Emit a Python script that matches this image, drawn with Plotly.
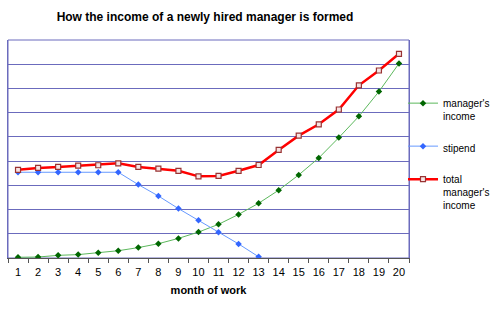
import plotly.graph_objects as go

months = [str(i) for i in range(1, 21)]
managers_income = [0.03, 0.04, 0.11, 0.14, 0.22, 0.30, 0.43, 0.59, 0.81, 1.07,
                   1.39, 1.80, 2.26, 2.80, 3.43, 4.13, 4.97, 5.85, 6.87, 8.03]
stipend = [3.54, 3.54, 3.54, 3.54, 3.54, 3.54, 3.03, 2.56, 2.04, 1.56,
           1.06, 0.58, 0.05]
total_income = [3.64, 3.72, 3.76, 3.81, 3.83, 3.91, 3.76, 3.69, 3.60, 3.37,
                3.39, 3.60, 3.84, 4.46, 5.05, 5.52, 6.13, 7.13, 7.74, 8.43]
y_max = 9

font = "Liberation Sans, Arial, sans-serif"
grid = "#6b6bbd"

fig = go.Figure()
fig.add_trace(go.Scatter(
    x=months, y=managers_income, name="manager's<br>income", mode="lines+markers",
    line=dict(color="#5cb85c", width=1),
    marker=dict(symbol="diamond", size=5, color="#006600"),
    legendgroup="a"))
fig.add_trace(go.Scatter(
    x=months[:len(stipend)], y=stipend, name="stipend", mode="lines+markers",
    line=dict(color="#6699ff", width=1),
    marker=dict(symbol="diamond", size=5, color="#3366ff"),
    legendgroup="b"))
fig.add_trace(go.Scatter(
    x=months, y=total_income, name="total<br>manager's<br>income", mode="lines+markers",
    line=dict(color="#ff0000", width=2.5),
    marker=dict(symbol="square", size=5, color="#f8e4e4",
                line=dict(color="#993333", width=1.2)),
    legendgroup="c"))

fig.update_layout(
    width=500, height=309,
    margin=dict(l=8, r=91, t=40, b=51, autoexpand=False),
    paper_bgcolor="white", plot_bgcolor="white",
    font=dict(family=font, size=11, color="black"),
    title=dict(text="<b>How the income of a newly hired manager is formed</b>",
               font=dict(size=12, family=font, color="black"),
               x=0.41, xanchor="center", y=0.945, yanchor="middle",
               xref="container", yref="container"),
    showlegend=True,
    legend=dict(x=0.806, xanchor="left", xref="container",
                y=0.77, yanchor="top",
                tracegroupgap=14, valign="top", bgcolor="rgba(0,0,0,0)",
                borderwidth=0,
                font=dict(size=10, family=font, color="black"),
                itemwidth=30),
    xaxis=dict(type="category", tickson="boundaries", ticks="outside",
               ticklen=4, tickcolor="#555555", showline=True,
               linecolor="#555555", linewidth=1, showgrid=False,
               tickangle=0, ticklabelstandoff=4,
               tickfont=dict(size=11, family=font, color="black"),
               title=dict(text="<b>month of work</b>", standoff=9,
                          font=dict(size=11, family=font, color="black")),
               range=[-0.5, 19.5]),
    yaxis=dict(range=[0, y_max], dtick=1, showticklabels=False,
               showgrid=True, gridcolor=grid, gridwidth=1,
               zeroline=False, showline=True, mirror=True,
               linecolor=grid, linewidth=1, ticks=""),
    shapes=[dict(type="rect", xref="paper", yref="paper", x0=0, x1=1, y0=0, y1=1,
                 line=dict(color=grid, width=1), layer="below")],
)

fig.write_html("out.html")
